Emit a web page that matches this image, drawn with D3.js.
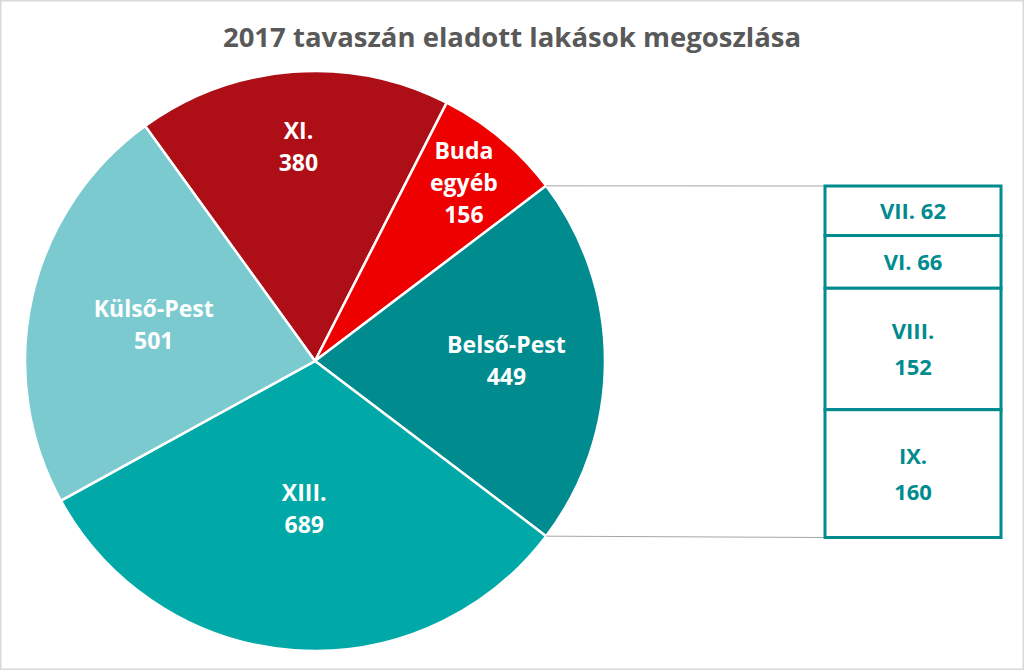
<!DOCTYPE html>
<html><head><meta charset="utf-8">
<script src="https://cdn.jsdelivr.net/npm/d3@7/dist/d3.min.js"></script>
<style>html,body{margin:0;padding:0;background:#fff;}svg{display:block;}</style>
</head><body>
<svg id="c" width="1024" height="670"></svg>
<script>
const title = "2017 tavaszán eladott lakások megoszlása";
const pieCategories = ["XI.", "Buda egyéb", "Belső-Pest", "XIII.", "Külső-Pest"];
const pieValues = [380, 156, 449, 689, 501];
const pieLabelLines = [["XI.", "380"], ["Buda", "egyéb", "156"], ["Belső-Pest", "449"], ["XIII.", "689"], ["Külső-Pest", "501"]];
const pieColors = ["#AE0F17", "#EE0000", "#008B8F", "#00A9A8", "#7BCAD0"];
const barCategories = ["VII.", "VI.", "VIII.", "IX."];
const barValues = [62, 66, 152, 160];
const barLabelLines = [["VII. 62"], ["VI. 66"], ["VIII.", "152"], ["IX.", "160"]];

const svg = d3.select("#c");
const font = "'Open Sans', Lato, sans-serif";
svg.append("rect").attr("x", 0.75).attr("y", 0.75).attr("width", 1022.5).attr("height", 668.5)
  .attr("fill", "#fff").attr("stroke", "#d9d9d9").attr("stroke-width", 1.5);

svg.append("text").attr("x", 512).attr("y", 47).attr("text-anchor", "middle")
  .attr("font-family", font).attr("font-weight", "bold").attr("font-size", 27.5)
  .attr("fill", "#595959").text(title);

const cx = 315, cy = 361, R = 290;
const total = d3.sum(pieValues);
const idxB = pieCategories.indexOf("Belső-Pest");
const before = d3.sum(pieValues.slice(0, idxB)) + pieValues[idxB] / 2;
const offset = Math.PI / 2 - before / total * 2 * Math.PI;
const pie = d3.pie().sort(null).value(d => d).startAngle(offset).endAngle(offset + 2 * Math.PI);
const arcs = pie(pieValues);
const arc = d3.arc().innerRadius(0).outerRadius(R);
const g = svg.append("g").attr("transform", `translate(${cx},${cy})`);
g.selectAll("path").data(arcs).join("path").attr("d", arc)
  .attr("fill", (d, i) => pieColors[i]).attr("stroke", "#fff").attr("stroke-width", 2.5);

const labelR = [0.74, 0.80, 0.66, 0.51, 0.57];
arcs.forEach((a, i) => {
  const m = (a.startAngle + a.endAngle) / 2;
  const r = R * labelR[i];
  const x = Math.sin(m) * r, y = -Math.cos(m) * r;
  const lines = pieLabelLines[i];
  const lh = 32;
  const t = g.append("text").attr("text-anchor", "middle")
    .attr("font-family", font).attr("font-weight", "bold").attr("font-size", 23).attr("fill", "#fff");
  lines.forEach((l, j) => {
    t.append("tspan").attr("x", x).attr("y", y + (j - (lines.length - 1) / 2) * lh + 8).text(l);
  });
});

const bx0 = 825, bx1 = 1001;
const y = d3.scaleLinear().domain([0, d3.sum(barValues)]).range([186, 537.5]);
let acc = 0;
const stacks = barValues.map(v => { const s = { y0: acc, y1: acc + v }; acc += v; return s; });

const a = arcs[idxB];
const p0 = [cx + Math.sin(a.startAngle) * R, cy - Math.cos(a.startAngle) * R];
const p1 = [cx + Math.sin(a.endAngle) * R, cy - Math.cos(a.endAngle) * R];
svg.append("line").attr("x1", p0[0]).attr("y1", p0[1]).attr("x2", bx0).attr("y2", y(0))
  .attr("stroke", "#a6a6a6").attr("stroke-width", 1);
svg.append("line").attr("x1", p1[0]).attr("y1", p1[1]).attr("x2", bx0).attr("y2", y(acc))
  .attr("stroke", "#a6a6a6").attr("stroke-width", 1);

const bg = svg.append("g");
bg.selectAll("rect").data(stacks).join("rect")
  .attr("x", bx0).attr("y", d => y(d.y0)).attr("width", bx1 - bx0).attr("height", d => y(d.y1) - y(d.y0))
  .attr("fill", "#fff").attr("stroke", "#008B8F").attr("stroke-width", 3);
stacks.forEach((s, i) => {
  const my = (y(s.y0) + y(s.y1)) / 2;
  const lines = barLabelLines[i];
  const lh = 36;
  const t = bg.append("text").attr("text-anchor", "middle")
    .attr("font-family", font).attr("font-weight", "bold").attr("font-size", 22).attr("fill", "#008B8F");
  lines.forEach((l, j) => {
    t.append("tspan").attr("x", (bx0 + bx1) / 2).attr("y", my + (j - (lines.length - 1) / 2) * lh + 8).text(l);
  });
});
</script>
</body></html>
